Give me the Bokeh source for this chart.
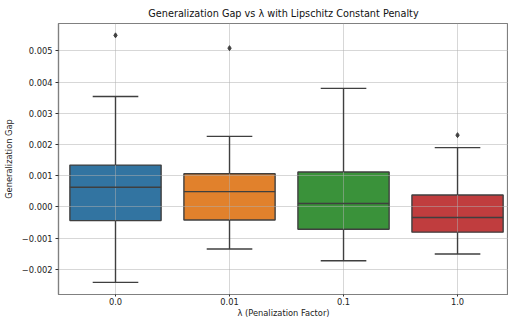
from bokeh.plotting import figure
from bokeh.models import Range1d, FixedTicker
from bokeh.embed import file_html
from bokeh.resources import INLINE

# ---- data ----
categories = ["0.0", "0.01", "0.1", "1.0"]
q1 = [-0.00044, -0.00042, -0.00072, -0.00081]
medians = [0.00063, 0.00049, 0.00011, -0.00034]
q3 = [0.00134, 0.00106, 0.00112, 0.00038]
whisker_low = [-0.00242, -0.00135, -0.00173, -0.00151]
whisker_high = [0.00354, 0.00226, 0.00380, 0.00190]
outlier_cat = ["0.0", "0.01", "1.0"]
outlier_val = [0.00550, 0.00509, 0.00230]
box_colors = ["#3274a1", "#e1812c", "#3a923a", "#c03d3e"]
y_ticks = [-0.002, -0.001, 0.0, 0.001, 0.002, 0.003, 0.004, 0.005]
y_tick_labels = ["\u22120.002", "\u22120.001", "0.000", "0.001", "0.002", "0.003", "0.004", "0.005"]

FONT = "DejaVu Sans"
EDGE = "#3f3f3f"

pos = list(range(len(categories)))
idx = {c: i for i, c in enumerate(categories)}
box_w = 0.8
cap_w = 0.4

Y0, Y1 = -0.00281, 0.00588
p = figure(width=508, height=320, output_backend="svg", toolbar_location=None,
           x_range=Range1d(-0.5, 3.447), y_range=Range1d(Y0, Y1),
           min_border_left=58, min_border_right=0, min_border_top=23, min_border_bottom=25,
           title="Generalization Gap vs \u03bb with Lipschitz Constant Penalty")
p.background_fill_color = "white"
p.border_fill_color = "white"
p.grid.visible = False

# boxes
p.quad(left=[x - box_w / 2 for x in pos], right=[x + box_w / 2 for x in pos],
       bottom=q1, top=q3, fill_color=box_colors, line_color=EDGE, line_width=1.4)

# grid drawn above boxes, below lines
p.hspan(y=y_ticks, line_color="#b0b0b0", line_alpha=0.5, line_width=1)
p.vspan(x=pos, line_color="#b0b0b0", line_alpha=0.5, line_width=1)

# whiskers
p.segment(x0=pos, x1=pos, y0=q3, y1=whisker_high, line_color=EDGE, line_width=1.4)
p.segment(x0=pos, x1=pos, y0=q1, y1=whisker_low, line_color=EDGE, line_width=1.4)
p.segment(x0=[x - cap_w / 2 for x in pos], x1=[x + cap_w / 2 for x in pos],
          y0=whisker_high, y1=whisker_high, line_color=EDGE, line_width=1.4)
p.segment(x0=[x - cap_w / 2 for x in pos], x1=[x + cap_w / 2 for x in pos],
          y0=whisker_low, y1=whisker_low, line_color=EDGE, line_width=1.4)
# medians
p.segment(x0=[x - box_w / 2 for x in pos], x1=[x + box_w / 2 for x in pos],
          y0=medians, y1=medians, line_color=EDGE, line_width=1.4)
# outliers
p.scatter(x=[idx[c] for c in outlier_cat], y=outlier_val, marker="diamond",
          size=5, fill_color=EDGE, line_color=EDGE)

# axes
p.xaxis.ticker = FixedTicker(ticks=pos)
p.xaxis.major_label_overrides = {i: c for i, c in enumerate(categories)}
p.yaxis.ticker = FixedTicker(ticks=y_ticks)
p.yaxis.major_label_overrides = {v: s for v, s in zip(y_ticks, y_tick_labels)}
p.xaxis.axis_label = "\u03bb (Penalization Factor)"
p.yaxis.axis_label = "Generalization Gap"
for ax in (p.xaxis[0], p.yaxis[0]):
    ax.minor_tick_line_color = None
    ax.major_tick_in = 0
    ax.major_tick_out = 3
    ax.major_tick_line_color = "#333333"
    ax.axis_line_color = "#808080"
    ax.axis_line_width = 1.2
    ax.major_label_text_font = FONT
    ax.major_label_text_font_size = "8.3px"
    ax.major_label_text_color = "#222222"
    ax.axis_label_text_font = FONT
    ax.axis_label_text_font_size = "8.3px"
    ax.axis_label_text_font_style = "normal"
    ax.axis_label_text_color = "#222222"
p.yaxis.major_label_standoff = 3
p.yaxis.axis_label_standoff = 5
p.xaxis.major_tick_out = 2
p.xaxis.major_label_standoff = 1
p.xaxis.axis_label_standoff = 0

p.outline_line_color = "#808080"
p.outline_line_width = 1.2

p.title.text_font = FONT
p.title.text_font_size = "9.7px"
p.title.text_font_style = "normal"
p.title.text_color = "#111111"
p.title.align = "center"

open("out.html", "w").write(file_html(p, INLINE))
